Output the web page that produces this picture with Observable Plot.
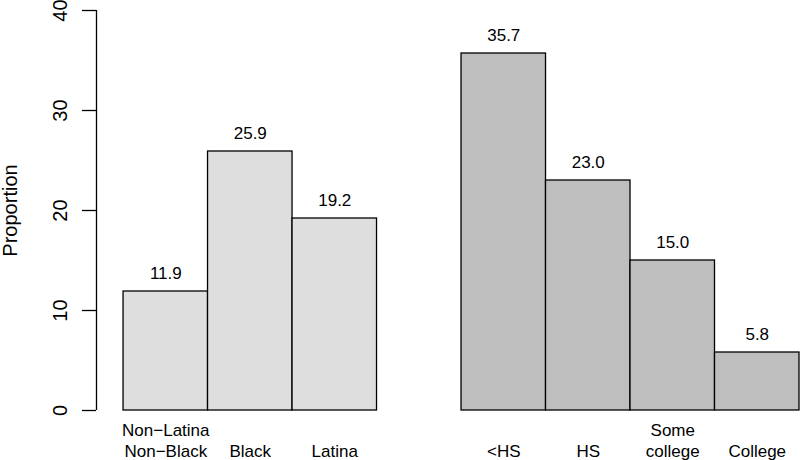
<!DOCTYPE html>
<html><head><meta charset="utf-8">
<script src="https://cdn.jsdelivr.net/npm/d3@7"></script>
<script src="https://cdn.jsdelivr.net/npm/@observablehq/plot@0.6"></script>
<style>body{margin:0;background:#fff}</style>
</head><body><div id="chart"></div>
<script>
const categories = ["Non\u2212Latina\nNon\u2212Black", "Black", "Latina", "<HS", "HS", "Some\ncollege", "College"];
const groups = ["race", "race", "race", "edu", "edu", "edu", "edu"];
const values = [11.9, 25.9, 19.2, 35.7, 23.0, 15.0, 5.8];
const yTicks = [0, 10, 20, 30, 40];
const groupFills = {race: "#dedede", edu: "#bebebe"};

const groupOrder = [...new Set(groups)];
const data = categories.map((c, i) => {
  const x1 = i + groupOrder.indexOf(groups[i]);
  return {category: c, group: groups[i], value: values[i], x1, x2: x1 + 1};
});
const xMin = -0.32;
const xMax = d3.max(data, d => d.x2);

const chart = Plot.plot({
  width: 800, height: 460,
  marginLeft: 96, marginRight: 1, marginTop: 10, marginBottom: 50,
  x: {domain: [xMin, xMax], axis: null},
  y: {domain: [0, 40], axis: null},
  style: {fontFamily: "'Liberation Sans', Arial, sans-serif", fontSize: "17px", color: "black", background: "white"},
  marks: [
    Plot.rectY(data, {x1: "x1", x2: "x2", y1: 0, y2: "value", fill: d => groupFills[d.group], stroke: "black", strokeWidth: 1.3}),
    Plot.text(data, {x: d => (d.x1 + d.x2) / 2, y: "value", text: d => d.value.toFixed(1), dy: -17.5, fontSize: 17, fill: "black"}),
    Plot.text(data, {x: d => (d.x1 + d.x2) / 2, y: 0, text: "category", lineAnchor: "bottom", dy: 46, lineHeight: 1.18, fontSize: 17, fill: "black"}),
    Plot.ruleX([xMin], {y1: 0, y2: 40, stroke: "black", strokeWidth: 1.3}),
    Plot.axisY({ticks: yTicks, tickSize: 14, tickFormat: () => "", label: null, strokeWidth: 1.3}),
    Plot.text(yTicks, {y: d => d, text: d => String(d), frameAnchor: "left", textAnchor: "middle", dx: -36, rotate: -90, fontSize: 20, fill: "black"}),
    Plot.text(["Proportion"], {text: d => d, frameAnchor: "left", textAnchor: "middle", dx: -86, rotate: -90, fontSize: 20, fill: "black"})
  ]
});
document.getElementById("chart").append(chart);
</script>
</body></html>
